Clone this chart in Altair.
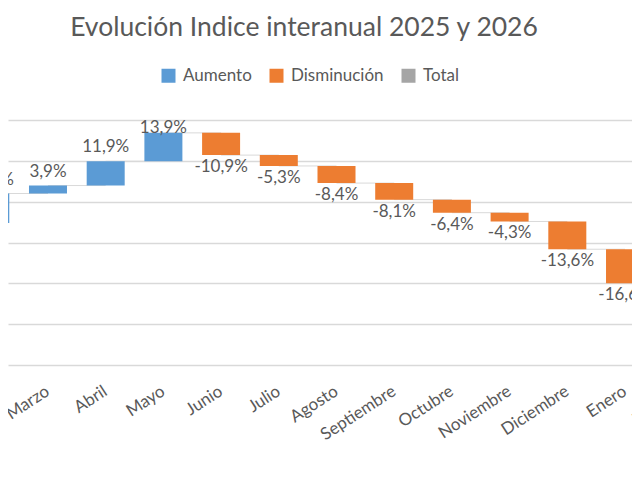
import altair as alt
import pandas as pd

# Enero 2025 .. Febrero 2026 (the first and last fall outside the visible crop)
months = ["Enero", "Febrero", "Marzo", "Abril", "Mayo", "Junio", "Julio",
          "Agosto", "Septiembre", "Octubre", "Noviembre", "Diciembre",
          "Enero", "Febrero"]
changes = [9.6, 14.4, 3.9, 11.9, 13.9, -10.9, -5.3, -8.4, -8.1, -6.4,
           -4.3, -13.6, -16.6]

legend_names = ["Aumento", "Disminución", "Total"]
legend_colors = ["#5B9BD5", "#ED7D31", "#A5A5A5"]
grid_values = [-60, -40, -20, 0, 20, 40, 60]

bars_df = pd.DataFrame({
    "pos": list(range(len(changes))),
    "mes": months[:len(changes)],
    "cambio": changes,
})
labels_df = pd.DataFrame({"pos": list(range(len(months))), "mes": months})

font = "Lato"
gray_text = "#595959"

# the picture is a crop of a wider chart: the x domain cuts the first/last bars
x_scale = alt.Scale(domain=[1.307, 12.121], nice=False, zero=False, padding=0)
y_scale = alt.Scale(domain=[-60, 60], nice=False, zero=False)

base = alt.Chart(bars_df).transform_window(
    fin="sum(cambio)", sort=[alt.SortField("pos")], frame=[None, 0]
).transform_calculate(
    inicio="datum.fin - datum.cambio",
    sig="datum.pos + 1",
    tipo="datum.cambio >= 0 ? 'Aumento' : 'Disminución'",
    etiqueta="(datum.cambio < 0 ? '-' : '') + replace(format(abs(datum.cambio), '.1f'), '.', ',') + '%'",
)

connectors = base.mark_rule(color="#D9D9D9", strokeWidth=1).encode(
    x=alt.X("pos:Q", scale=x_scale, axis=None),
    x2="sig:Q",
    y=alt.Y("fin:Q", scale=y_scale, axis=alt.Axis(
        values=grid_values, labels=False, ticks=False, domain=False,
        grid=True, gridColor="#D9D9D9", gridWidth=1.3, title=None)),
)

bars = base.mark_bar(size=38).encode(
    x=alt.X("pos:Q", scale=x_scale, axis=None),
    y=alt.Y("inicio:Q", scale=y_scale),
    y2="fin:Q",
    color=alt.Color("tipo:N",
        scale=alt.Scale(domain=legend_names, range=legend_colors),
        legend=alt.Legend(
            orient="none", legendX=152, legendY=-53, direction="horizontal",
            title=None, symbolType="square", symbolSize=196,
            symbolStrokeWidth=0, labelFont=font, labelFontSize=17,
            labelColor=gray_text, columnPadding=16, labelOffset=6)),
)

# Excel keeps the top label inside the plot area, so it is capped
pos_labels = base.transform_filter("datum.cambio >= 0").transform_calculate(
    ly="min(datum.fin, 49.2)"
).mark_text(baseline="bottom", dy=-5, font=font, fontSize=17, color=gray_text).encode(
    x=alt.X("pos:Q", scale=x_scale),
    y=alt.Y("ly:Q", scale=y_scale),
    text="etiqueta:N",
)

neg_labels = base.transform_filter("datum.cambio < 0").mark_text(
    baseline="top", dy=4, font=font, fontSize=17, color=gray_text
).encode(
    x=alt.X("pos:Q", scale=x_scale),
    y=alt.Y("fin:Q", scale=y_scale),
    text="etiqueta:N",
)

month_labels = alt.Chart(labels_df).mark_text(
    angle=327, align="right", baseline="middle", font=font, fontSize=17,
    color=gray_text
).encode(
    x=alt.X("pos:Q", scale=x_scale),
    y=alt.value(270),
    text="mes:N",
)

chart = alt.layer(connectors, bars, pos_labels, neg_labels, month_labels).properties(
    width=624,
    height=245,
    padding={"left": 0, "top": 112, "right": 0, "bottom": 95},
    autosize=alt.AutoSizeParams(type="none"),
    title=alt.Title("Evolución Indice interanual 2025 y 2026", font=font,
                    fontSize=26.5, fontWeight="normal", color=gray_text,
                    anchor="middle", frame="group", dx=-16, offset=26),
).configure_view(stroke=None)

chart.save("out.html", embed_options={"renderer": "svg", "actions": False})
